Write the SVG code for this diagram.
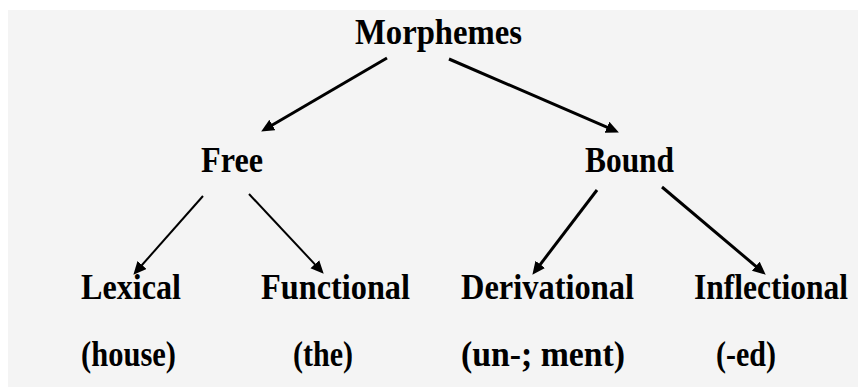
<svg xmlns="http://www.w3.org/2000/svg" width="858" height="387" viewBox="0 0 858 387">
<style>
.t{font-family:"Liberation Serif","Times New Roman",serif;font-weight:bold;font-size:36px;fill:#000}
.c{stroke:#000;fill:none;stroke-linecap:butt}
</style>
<defs>
<marker id="ah" markerUnits="userSpaceOnUse" markerWidth="15" markerHeight="13" refX="8" refY="6" orient="auto">
<path d="M0,0 L13,6 L0,12 z" fill="#000"/>
</marker>
</defs>
<rect x="0" y="0" width="858" height="387" fill="#ffffff"/>
<rect x="8" y="10" width="850" height="377" fill="#f4f4f4"/>
<g id="connectors">
<line class="c" x1="387" y1="58" x2="265.5" y2="129" stroke-width="3" marker-end="url(#ah)"/>
<line class="c" x1="449" y1="59" x2="614.3" y2="130.4" stroke-width="3" marker-end="url(#ah)"/>
<line class="c" x1="203" y1="196" x2="136.7" y2="271" stroke-width="2" marker-end="url(#ah)"/>
<line class="c" x1="249" y1="194" x2="320.3" y2="270.1" stroke-width="2" marker-end="url(#ah)"/>
<line class="c" x1="597" y1="190" x2="535.4" y2="270.8" stroke-width="3" marker-end="url(#ah)"/>
<line class="c" x1="662" y1="187" x2="761.9" y2="271.4" stroke-width="3" marker-end="url(#ah)"/>
</g>
<g id="morphemes"><text class="t" x="355" y="44" textLength="167" lengthAdjust="spacingAndGlyphs">Morphemes</text></g>
<g id="free"><text class="t" x="201" y="172" textLength="62" lengthAdjust="spacingAndGlyphs">Free</text></g>
<g id="bound"><text class="t" x="585" y="172" textLength="89" lengthAdjust="spacingAndGlyphs">Bound</text></g>
<g id="lexical"><text class="t" x="81" y="299" textLength="100" lengthAdjust="spacingAndGlyphs">Lexical</text><text class="t" x="81" y="366" textLength="95" lengthAdjust="spacingAndGlyphs">(house)</text></g>
<g id="functional"><text class="t" x="261" y="299" textLength="149" lengthAdjust="spacingAndGlyphs">Functional</text><text class="t" x="293" y="366" textLength="60" lengthAdjust="spacingAndGlyphs">(the)</text></g>
<g id="derivational"><text class="t" x="461" y="299" textLength="173" lengthAdjust="spacingAndGlyphs">Derivational</text><text class="t" x="461" y="366" textLength="164" lengthAdjust="spacingAndGlyphs">(un-; ment)</text></g>
<g id="inflectional"><text class="t" x="694" y="299" textLength="154" lengthAdjust="spacingAndGlyphs">Inflectional</text><text class="t" x="716" y="366" textLength="60" lengthAdjust="spacingAndGlyphs">(-ed)</text></g>
</svg>
